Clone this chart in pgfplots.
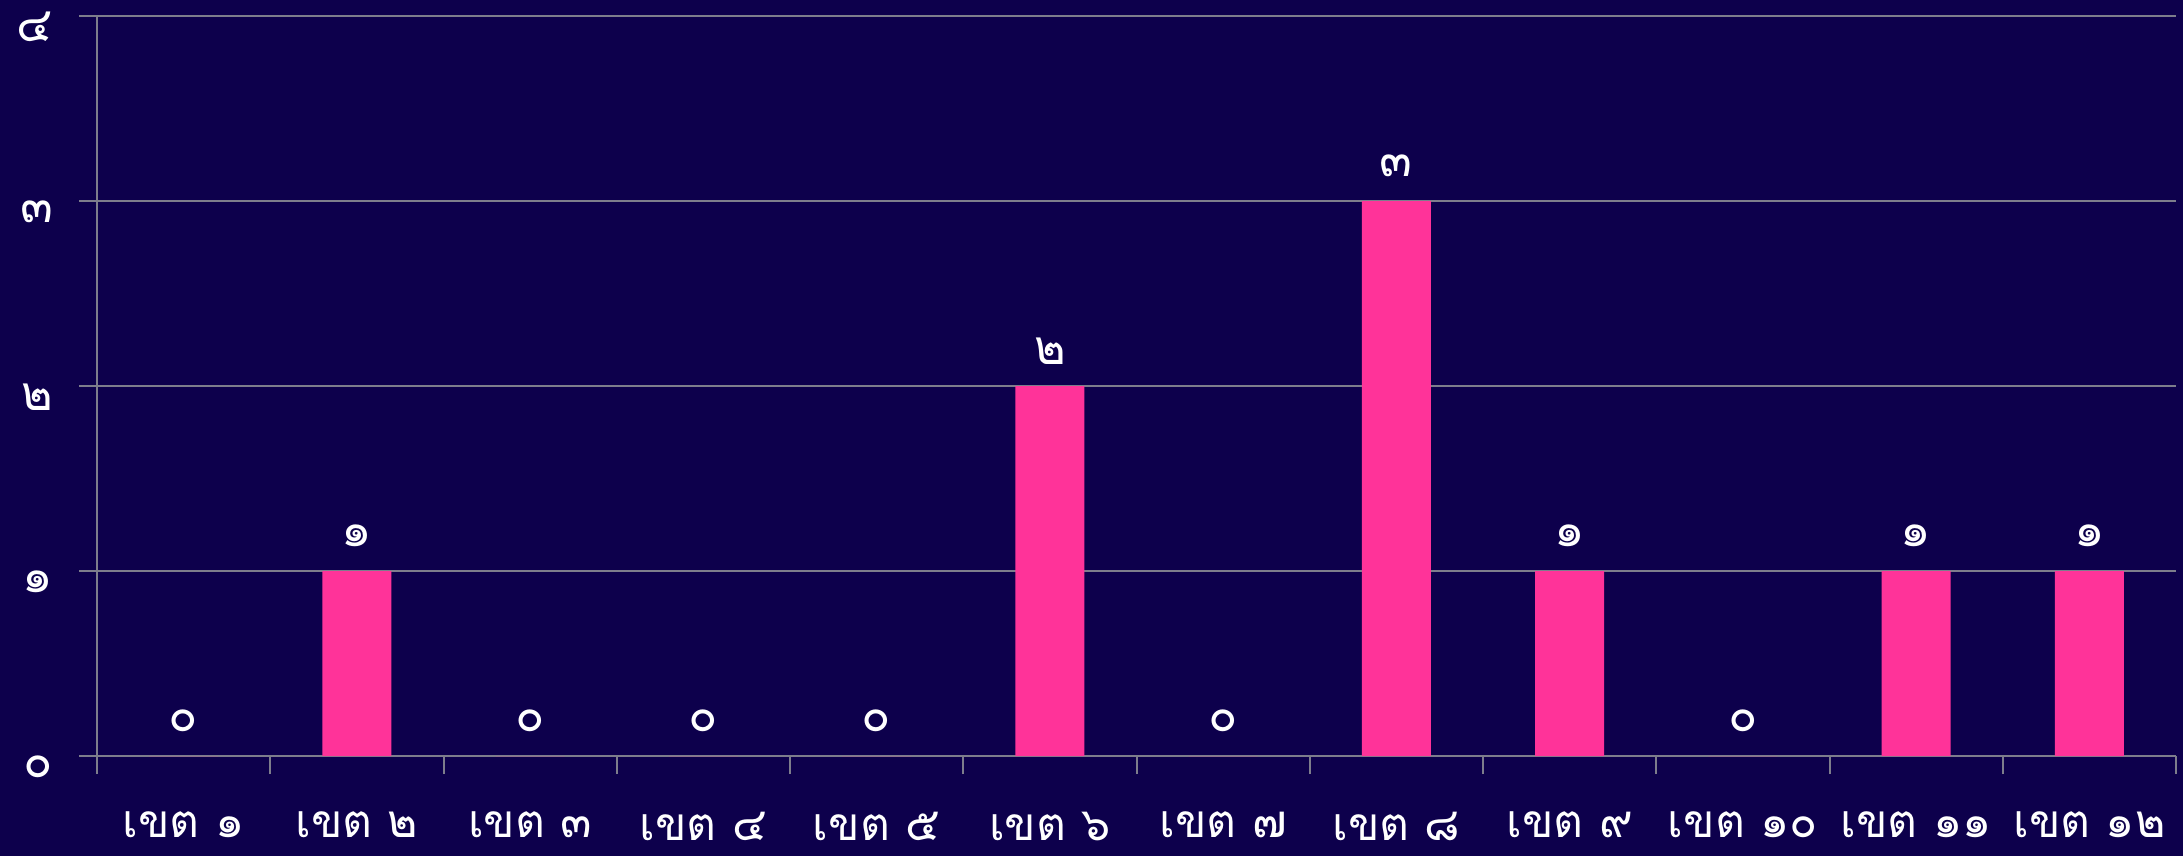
\documentclass[border=0pt]{standalone}
\usepackage{fontspec}
\setmainfont[Script=Thai]{Loma}
\usepackage{pgfplots}
\pgfplotsset{compat=1.18}
\definecolor{bg}{RGB}{13,0,76}
\definecolor{barpink}{RGB}{255,51,153}
\definecolor{gridgray}{RGB}{125,125,140}

\begin{document}
\begin{tikzpicture}
% background, 1px = 0.25pt
\fill[bg] (-24.25pt,-25pt) rectangle (521.5pt,189pt);
\begin{axis}[
  scale only axis,
  width=519.75pt, height=185pt,
  xmin=-0.5, xmax=11.5,
  ymin=0, ymax=4,
  axis lines*=left,
  axis line style={gridgray, line width=0.5pt},
  ytick={0,1,2,3,4},
  yticklabels={๐,๑,๒,๓,๔},
  xtick={-0.5,0.5,...,11.5},
  x tick label as interval,
  xticklabels={เขต ๑,เขต ๒,เขต ๓,เขต ๔,เขต ๕,เขต ๖,เขต ๗,เขต ๘,เขต ๙,เขต ๑๐,เขต ๑๑,เขต ๑๒},
  tick align=outside,
  major tick length=4.5pt,
  tick style={gridgray, line width=0.5pt},
  ymajorgrids,
  grid style={gridgray, line width=0.4pt},
  ticklabel style={white, font=\fontsize{12}{14}\selectfont},
  xticklabel style={anchor=north, yshift=-6pt, font=\fontsize{11.5}{13}\selectfont},
  yticklabel style={anchor=east, xshift=-3pt, yshift=-2.8pt},
  ybar, bar width=17.25pt,
  nodes near coords,
  point meta=explicit symbolic,
  nodes near coords style={white, font=\fontsize{12}{14}\selectfont, anchor=center, yshift=8.8pt},
]
\addplot[fill=barpink, draw=none] coordinates {
  (0,0) [๐] (1,1) [๑] (2,0) [๐] (3,0) [๐] (4,0) [๐] (5,2) [๒]
  (6,0) [๐] (7,3) [๓] (8,1) [๑] (9,0) [๐] (10,1) [๑] (11,1) [๑]
};
\end{axis}
\pgfresetboundingbox
\useasboundingbox (-24.25pt,-25pt) rectangle (521.5pt,189pt);
\end{tikzpicture}
\end{document}
